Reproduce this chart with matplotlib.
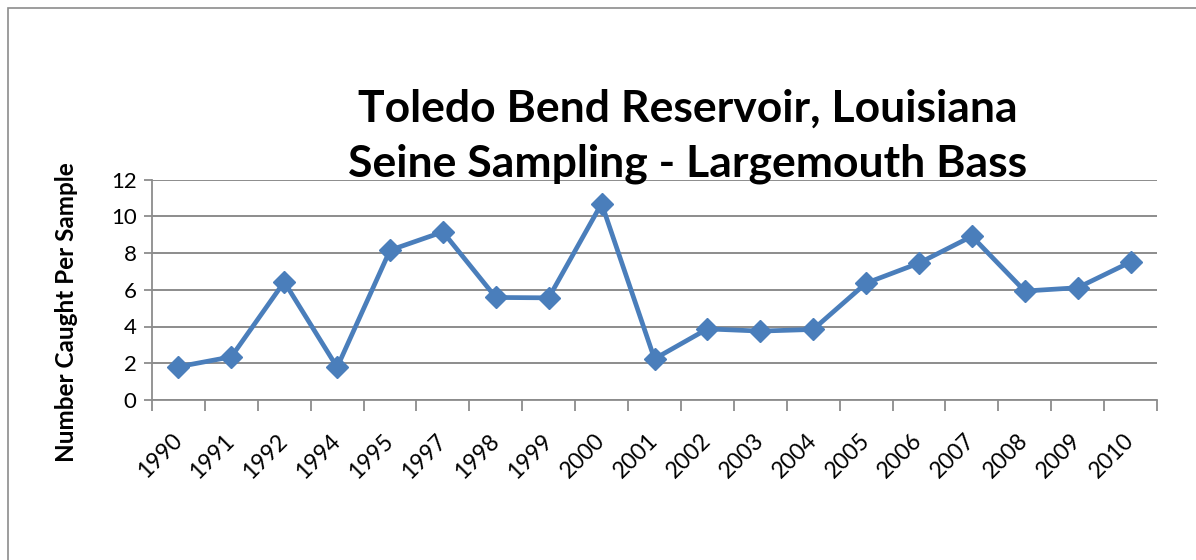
import numpy as np
import matplotlib
matplotlib.use("Agg")
import matplotlib.pyplot as plt
from matplotlib.patches import Rectangle

years = ['1990', '1991', '1992', '1994', '1995', '1997', '1998', '1999', '2000',
         '2001', '2002', '2003', '2004', '2005', '2006', '2007', '2008', '2009', '2010']
caught = [1.81, 2.35, 6.43, 1.78, 8.15, 9.15, 5.58, 5.56, 10.69,
          2.24, 3.87, 3.75, 3.84, 6.36, 7.45, 8.91, 5.93, 6.11, 7.51]
yticks = [0, 2, 4, 6, 8, 10, 12]

plt.rcParams['font.family'] = ['Lato', 'DejaVu Sans']

fig = plt.figure(figsize=(11.96, 5.6), dpi=100)
fig.patches.append(Rectangle((8 / 1196, -0.01), 1.02, 1 - 8 / 560 + 0.01,
                             transform=fig.transFigure, fill=False,
                             edgecolor='#8c8c8c', linewidth=1.2))

ax = fig.add_axes([152 / 1196, 160 / 560, 1005 / 1196, 220.5 / 560])
x = np.arange(len(years))
ax.plot(x, caught, color='#4A7EBB', linewidth=3.4, marker='D', markersize=11,
        markerfacecolor='#4A7EBB', markeredgecolor='#4A7EBB', zorder=3, clip_on=False)

ax.set_xlim(-0.5, len(years) - 0.5)
ax.set_ylim(0, 12)
ax.set_yticks(yticks)
ax.set_yticklabels([str(v) for v in yticks], fontsize=16)
ax.yaxis.grid(True, color='#8c8c8c', linewidth=1.4)
ax.set_axisbelow(True)

# major ticks mark category edges, minor ticks carry the year labels
ax.set_xticks(np.arange(-0.5, len(years), 1.0))
ax.set_xticklabels([])
ax.set_xticks(x, minor=True)
ax.set_xticklabels(years, minor=True, rotation=45, ha='right', va='center',
                   rotation_mode='anchor', fontsize=16.5)
ax.tick_params(axis='x', which='major', length=8, width=1.3, color='#8c8c8c', direction='out')
ax.tick_params(axis='x', which='minor', length=0, pad=27)
ax.tick_params(axis='y', length=6, width=1.3, color='#8c8c8c', pad=5)

for side in ['top', 'right']:
    ax.spines[side].set_visible(False)
for side in ['left', 'bottom']:
    ax.spines[side].set_color('#8c8c8c')
    ax.spines[side].set_linewidth(1.3)

ax.set_ylabel('Number Caught Per Sample', fontsize=17.5, fontweight='bold')
ax.yaxis.set_label_coords(-0.074, 0.40)

fig.text(688 / 1196, 1 - 136 / 560, 'Toledo Bend Reservoir, Louisiana\nSeine Sampling - Largemouth Bass',
         ha='center', va='center', fontsize=32, fontweight='bold', linespacing=1.45)

fig.savefig('out.png', dpi=100)
